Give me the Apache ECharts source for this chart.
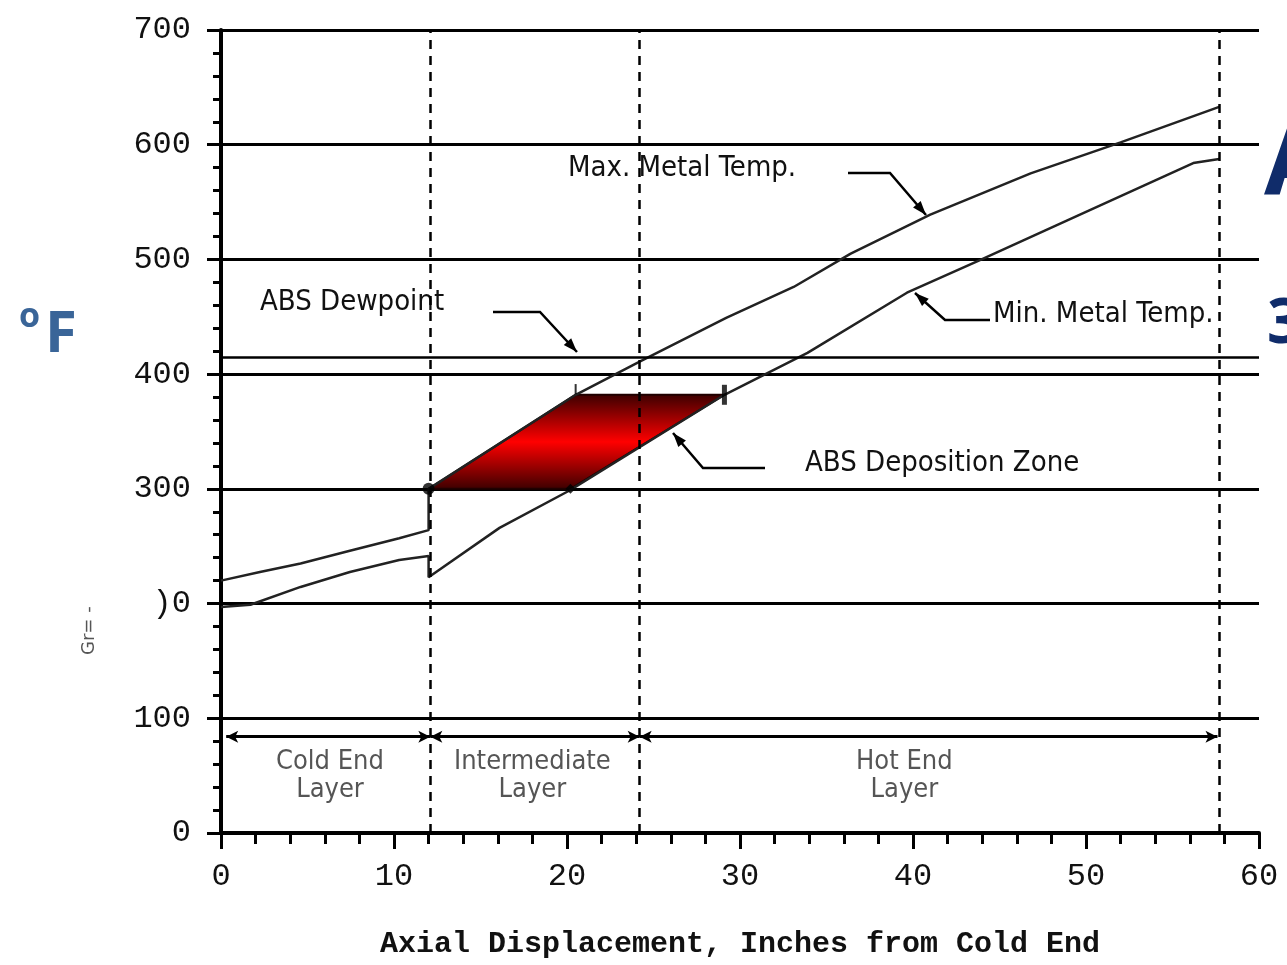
<!DOCTYPE html>
<html><head><meta charset="utf-8">
<script src="https://cdn.jsdelivr.net/npm/echarts@6/dist/echarts.min.js"></script>
<style>html,body{margin:0;padding:0;background:#fff}#c{width:1287px;height:965px}</style>
</head><body><div id="c"></div>
<script>
// ---- data ----
const yTickValues = [0, 100, 200, 300, 400, 500, 600, 700];
const yTickLabels = ['0', '100', ')0', '300', '400', '500', '600', '700'];
const xTickValues = [0, 10, 20, 30, 40, 50, 60];
const maxTempX = [0, 2.25, 4.6, 7.45, 10.3, 12, 12, 20.5, 24.2, 29.2, 33.1, 36.4, 41, 46.8, 52, 57.7];
const maxTempY = [220, 227.5, 235, 246, 257, 264, 300, 382, 411, 449, 476, 505, 539, 575, 602, 633];
const minTempX = [0, 1.7, 4.6, 7.45, 10.3, 12, 12, 16.1, 20.2, 29.1, 33.9, 39.65, 43.9, 49.65, 56.2, 57.7];
const minTempY = [197, 199, 214.5, 227.5, 238, 241.5, 223, 266, 299, 382, 418.5, 471, 499.6, 539, 584, 587.5];
const dewpoint = 415;
const depZoneX = [12, 20.5, 29.1, 20.2];
const depZoneY = [300, 382, 382, 300];
const layerBounds = [0.3, 12.1, 24.2, 57.6];
const layerArrowValue = 84;
const layerNames = ['Cold End\nLayer', 'Intermediate\nLayer', 'Hot End\nLayer'];
const layerNameX = [6.3, 18.0, 39.5];
const layerNameY = 50;

// ---- chart ----
const chart = echarts.init(document.getElementById('c'));
const tickFont = 'Liberation Mono';
const noteFont = '"Liberation Sans Narrow", "DejaVu Sans Condensed", sans-serif';

const pairs = (xs, ys) => xs.map((x, i) => [x, ys[i]]);

const layerArrowSegs = [];
for (let i = 0; i < layerBounds.length - 1; i++) {
  layerArrowSegs.push([{ coord: [layerBounds[i], layerArrowValue] }, { coord: [layerBounds[i + 1], layerArrowValue] }]);
}

function arrowHead(tip, from, len, half) {
  const dx = tip[0] - from[0], dy = tip[1] - from[1];
  const d = Math.hypot(dx, dy), ux = dx / d, uy = dy / d;
  const bx = tip[0] - ux * len, by = tip[1] - uy * len;
  return { type: 'polygon', shape: { points: [tip, [bx - uy * half, by + ux * half], [bx + uy * half, by - ux * half]] }, style: { fill: '#000' } };
}
function leader(points) {
  const n = points.length;
  return [
    { type: 'polyline', shape: { points: points }, style: { stroke: '#000', lineWidth: 2.5, fill: null } },
    arrowHead(points[n - 1], points[n - 2], 14, 5)
  ];
}
function note(text, x, y, size) {
  return { type: 'text', x: x, y: y, style: { text: text, fontSize: size, fontFamily: noteFont, fill: '#111', textAlign: 'left', textVerticalAlign: 'middle' } };
}

const graphics = [].concat(
  leader([[848, 173], [890, 173], [926, 215]]),
  leader([[493, 312], [540, 312], [577, 352]]),
  leader([[990, 320], [945, 320], [915, 293]]),
  leader([[765, 468], [703, 468], [673, 433]]),
  [
    note('Max. Metal Temp.', 568, 168, 29),
    note('ABS Dewpoint', 260, 302, 29),
    note('Min. Metal Temp.', 993, 314, 29),
    note('ABS Deposition Zone', 805, 463, 29),
    { type: 'text', x: 19, y: 300, style: { text: 'o', fontSize: 34, fontWeight: 'bold', fontFamily: 'Open Sans', fill: '#3A6598' } },
    { type: 'text', x: 45, y: 306, style: { text: 'F', fontSize: 58, fontWeight: 'bold', fontFamily: 'Open Sans', fill: '#3A6598' } },
    { type: 'text', x: 1264, y: 120, style: { text: 'A', fontSize: 96, fontWeight: 'bold', fontFamily: 'Open Sans', fill: '#102C6A' } },
    { type: 'text', x: 1267, y: 294, style: { text: '3', fontSize: 62, fontWeight: 'bold', fontFamily: 'Open Sans', fill: '#102C6A' } },
    { type: 'text', x: 80, y: 655, rotation: Math.PI / 2, style: { text: 'Gr= -', fontSize: 18, fontFamily: 'DejaVu Sans', fill: '#555' } }
  ]
);

chart.setOption({
  animation: false,
  grid: { left: 221, right: 28, top: 30, bottom: 132, containLabel: false },
  xAxis: {
    type: 'value', min: 0, max: 60, interval: 10,
    name: 'Axial Displacement, Inches from Cold End', nameLocation: 'middle', nameGap: 96,
    nameTextStyle: { fontFamily: tickFont, fontSize: 30, fontWeight: 'bold', color: '#111' },
    axisLine: { show: true, onZero: false, lineStyle: { color: '#000', width: 4 } },
    axisTick: { show: true, length: 16, lineStyle: { color: '#000', width: 3 } },
    minorTick: { show: true, splitNumber: 5, length: 11, lineStyle: { color: '#000', width: 3 } },
    axisLabel: { fontFamily: tickFont, fontSize: 32, color: '#111', margin: 28 },
    splitLine: { show: false }
  },
  yAxis: {
    type: 'value', min: 0, max: 700, interval: 100,
    axisLine: { show: true, onZero: false, lineStyle: { color: '#000', width: 4 } },
    axisTick: { show: true, length: 14, lineStyle: { color: '#000', width: 3 } },
    minorTick: { show: true, splitNumber: 5, length: 8, lineStyle: { color: '#000', width: 3 } },
    axisLabel: { fontFamily: tickFont, fontSize: 32, color: '#111', margin: 30,
      formatter: v => { const i = yTickValues.indexOf(v); return i >= 0 ? yTickLabels[i] : ''; } },
    splitLine: { show: true, lineStyle: { color: '#000', width: 3 } }
  },
  series: [
    {
      type: 'custom', name: 'ABS Deposition Zone', z: 3,
      data: [[depZoneX[0], depZoneY[0]]],
      renderItem: (params, api) => {
        const pts = depZoneX.map((x, i) => api.coord([x, depZoneY[i]]));
        return {
          type: 'polygon', shape: { points: pts },
          style: {
            fill: new echarts.graphic.LinearGradient(0, 0, 0, 1, [
              { offset: 0, color: '#3a0000' }, { offset: 0.5, color: '#ff0000' }, { offset: 1, color: '#3a0000' }
            ]),
            stroke: '#200000', lineWidth: 2
          }
        };
      }
    },
    {
      type: 'line', name: 'Max. Metal Temp.', data: pairs(maxTempX, maxTempY), symbol: 'none', z: 4,
      lineStyle: { color: '#222', width: 2.5 },
      markLine: {
        silent: true, symbol: 'none', label: { show: false },
        data: [
          { yAxis: dewpoint, lineStyle: { color: '#000', width: 2.5, type: 'solid' } },
          { xAxis: layerBounds[1], lineStyle: { color: '#000', width: 2.5, type: [9, 7] } },
          { xAxis: layerBounds[2], lineStyle: { color: '#000', width: 2.5, type: [9, 7] } },
          { xAxis: layerBounds[3] + 0.1, lineStyle: { color: '#000', width: 2.5, type: [9, 7] } }
        ]
      }
    },
    {
      type: 'line', name: 'Min. Metal Temp.', data: pairs(minTempX, minTempY), symbol: 'none', z: 4,
      lineStyle: { color: '#222', width: 2.5 },
      markLine: {
        silent: true, symbol: ['arrow', 'arrow'], symbolSize: [9, 12], label: { show: false },
        lineStyle: { color: '#000', width: 3, type: 'solid' },
        data: layerArrowSegs
      }
    },
    {
      type: 'scatter', name: 'zone corners', z: 5, silent: true,
      data: [
        { value: [depZoneX[0], depZoneY[0]], symbol: 'circle', symbolSize: 12 },
        { value: [depZoneX[3], depZoneY[3]], symbol: 'diamond', symbolSize: 10 },
        { value: [depZoneX[2], depZoneY[2]], symbol: 'rect', symbolSize: [5, 20] },
        { value: [depZoneX[1], depZoneY[1] + 5], symbol: 'rect', symbolSize: [2, 10] }
      ],
      itemStyle: { color: '#000' }
    },
    {
      type: 'scatter', name: 'layer names', z: 5, silent: true, symbolSize: 0,
      data: layerNames.map((n, i) => ({ value: [layerNameX[i], layerNameY], name: n })),
      label: { show: true, position: 'inside', formatter: p => p.name, fontFamily: noteFont, fontSize: 27, lineHeight: 28, color: '#2a2a2a' }
    }
  ],
  graphic: graphics
});
</script>
</body></html>
